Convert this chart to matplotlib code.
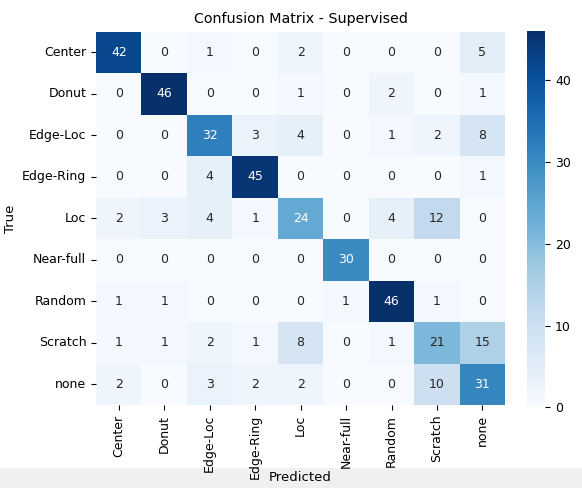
import matplotlib
matplotlib.use("Agg")
import matplotlib.pyplot as plt
from matplotlib.patches import Rectangle
import numpy as np
import seaborn as sns

classes = ["Center", "Donut", "Edge-Loc", "Edge-Ring", "Loc",
           "Near-full", "Random", "Scratch", "none"]

row_center = [42, 0, 1, 0, 2, 0, 0, 0, 5]
row_donut = [0, 46, 0, 0, 1, 0, 2, 0, 1]
row_edge_loc = [0, 0, 32, 3, 4, 0, 1, 2, 8]
row_edge_ring = [0, 0, 4, 45, 0, 0, 0, 0, 1]
row_loc = [2, 3, 4, 1, 24, 0, 4, 12, 0]
row_near_full = [0, 0, 0, 0, 0, 30, 0, 0, 0]
row_random = [1, 1, 0, 0, 0, 1, 46, 1, 0]
row_scratch = [1, 1, 2, 1, 8, 0, 1, 21, 15]
row_none = [2, 0, 3, 2, 2, 0, 0, 10, 31]

cm = np.array([row_center, row_donut, row_edge_loc, row_edge_ring, row_loc,
               row_near_full, row_random, row_scratch, row_none])

fig = plt.figure(figsize=(5.82, 4.88), dpi=100)
ax = fig.add_axes([0.165, 0.17, 0.703, 0.765])
cax = fig.add_axes([0.905, 0.165, 0.032, 0.772])

sns.heatmap(cm, annot=True, fmt="d", cmap="Blues", ax=ax, cbar_ax=cax,
            xticklabels=classes, yticklabels=classes,
            annot_kws={"fontsize": 9})
cax.tick_params(labelsize=9)
ax.tick_params(labelsize=9)
ax.set_title("Confusion Matrix - Supervised", fontsize=10.3)
ax.set_xlabel("Predicted", fontsize=9.5)
ax.xaxis.set_label_coords(0.5, -0.178)
ax.set_ylabel("True", fontsize=9.5)

# greyish strip at the bottom of the screenshot
fig.patches.append(Rectangle((0, 0), 1, 0.04, transform=fig.transFigure,
                             facecolor="#f0f0f0", edgecolor="none", zorder=-1))

fig.savefig("out.png", dpi=100)
